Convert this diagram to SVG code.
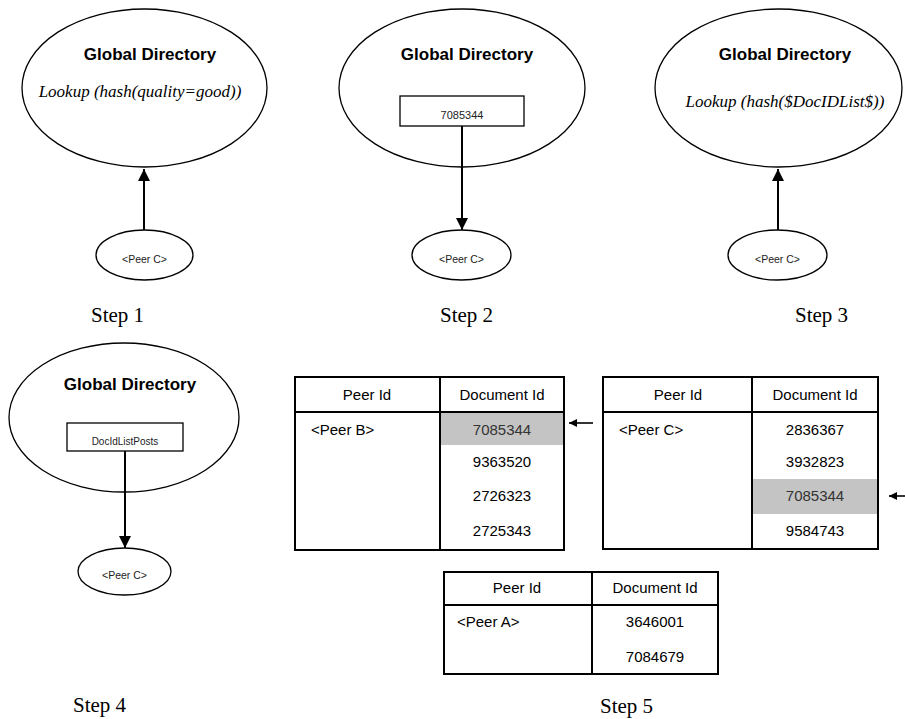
<svg xmlns="http://www.w3.org/2000/svg" width="905" height="719" viewBox="0 0 905 719">
  <style>
    .shape { fill: #fff; stroke: #000; stroke-width: 1.3; }
    .tbl { fill: none; stroke: #000; stroke-width: 2; }
    .hl { fill: #c4c4c4; stroke: none; }
    .wire { fill: none; stroke: #000; stroke-width: 2; }
    .pointer { fill: none; stroke: #000; stroke-width: 1.6; }
    .title { font-family: "Liberation Sans", Arial, sans-serif; font-weight: bold; font-size: 17px; text-anchor: middle; }
    .query { font-family: "Liberation Serif", "Times New Roman", serif; font-style: italic; font-size: 17px; text-anchor: middle; }
    .small { font-family: "Liberation Sans", Arial, sans-serif; font-size: 10.5px; text-anchor: middle; fill: #222; }
    .cell { font-family: "Liberation Sans", Arial, sans-serif; font-size: 15px; text-anchor: middle; }
    .cellL { font-family: "Liberation Sans", Arial, sans-serif; font-size: 15px; }
    .step { font-family: "Liberation Serif", "Times New Roman", serif; font-size: 21px; }
  </style>
  <defs>
    <marker id="head" viewBox="0 0 10 10" refX="10" refY="5" markerWidth="6" markerHeight="6" orient="auto" markerUnits="strokeWidth">
      <path d="M0,0 L10,5 L0,10 z" fill="#000"/>
    </marker>
    <marker id="headSmall" viewBox="0 0 10 10" refX="10" refY="5" markerWidth="5" markerHeight="5" orient="auto" markerUnits="strokeWidth">
      <path d="M0,0 L10,5 L0,10 z" fill="#000"/>
    </marker>
  </defs>
  <rect width="905" height="719" fill="#fff"/>

  <!-- Step 1 -->
  <g id="dir1">
    <ellipse class="shape" cx="144.5" cy="88" rx="122.5" ry="79"/>
    <text class="title" x="150" y="60">Global Directory</text>
    <text class="query" x="140" y="97">Lookup (hash(quality=good))</text>
  </g>
  <g id="peer1">
    <ellipse class="shape" cx="144.5" cy="255" rx="48.5" ry="25"/>
    <text class="small" x="144.5" y="263">&lt;Peer C&gt;</text>
  </g>
  <text class="step" x="91" y="322">Step 1</text>

  <!-- Step 2 -->
  <g id="dir2">
    <ellipse class="shape" cx="462" cy="88" rx="123" ry="79"/>
    <text class="title" x="467" y="60">Global Directory</text>
    <rect class="shape" x="400" y="96" width="124" height="30"/>
    <text class="small" x="462" y="119" style="font-size:11px">7085344</text>
  </g>
  <g id="peer2">
    <ellipse class="shape" cx="461.5" cy="255" rx="49.5" ry="25"/>
    <text class="small" x="461.5" y="263">&lt;Peer C&gt;</text>
  </g>
  <text class="step" x="440" y="322">Step 2</text>

  <!-- Step 3 -->
  <g id="dir3">
    <ellipse class="shape" cx="778.5" cy="88" rx="123.5" ry="79"/>
    <text class="title" x="785" y="60">Global Directory</text>
    <text class="query" x="785" y="107">Lookup (hash($DocIDList$))</text>
  </g>
  <g id="peer3">
    <ellipse class="shape" cx="777.5" cy="255" rx="49.5" ry="25"/>
    <text class="small" x="777.5" y="263">&lt;Peer C&gt;</text>
  </g>
  <text class="step" x="795" y="322">Step 3</text>

  <!-- Step 4 -->
  <g id="dir4">
    <ellipse class="shape" cx="124" cy="417.5" rx="115" ry="74.5"/>
    <text class="title" x="130" y="390">Global Directory</text>
    <rect class="shape" x="67" y="423" width="116" height="28"/>
    <text class="small" x="125" y="445" style="font-size:10px">DocIdListPosts</text>
  </g>
  <g id="peer4">
    <ellipse class="shape" cx="124.5" cy="571.5" rx="46.5" ry="23.5"/>
    <text class="small" x="124.5" y="579">&lt;Peer C&gt;</text>
  </g>
  <text class="step" x="73" y="712">Step 4</text>

  <!-- Step 5: peer tables -->
  <g id="tableB">
    <rect class="hl" x="440" y="412" width="124" height="33"/>
    <rect class="tbl" x="295" y="377" width="269" height="173"/>
    <line class="tbl" x1="295" y1="412" x2="564" y2="412"/>
    <line class="tbl" x1="440" y1="377" x2="440" y2="550"/>
    <text class="cell" x="367" y="400">Peer Id</text>
    <text class="cell" x="502" y="400">Document Id</text>
    <text class="cellL" x="311" y="435">&lt;Peer B&gt;</text>
    <text class="cell" x="502" y="435" fill="#333">7085344</text>
    <text class="cell" x="502" y="467">9363520</text>
    <text class="cell" x="502" y="501">2726323</text>
    <text class="cell" x="502" y="536">2725343</text>
  </g>
  <g id="tableC">
    <rect class="hl" x="752" y="479" width="126" height="35"/>
    <rect class="tbl" x="603" y="377" width="275" height="172"/>
    <line class="tbl" x1="603" y1="412" x2="878" y2="412"/>
    <line class="tbl" x1="752" y1="377" x2="752" y2="549"/>
    <text class="cell" x="678" y="400">Peer Id</text>
    <text class="cell" x="815" y="400">Document Id</text>
    <text class="cellL" x="619" y="435">&lt;Peer C&gt;</text>
    <text class="cell" x="815" y="435">2836367</text>
    <text class="cell" x="815" y="467">3932823</text>
    <text class="cell" x="815" y="501" fill="#333">7085344</text>
    <text class="cell" x="815" y="536">9584743</text>
  </g>
  <g id="tableA">
    <rect class="tbl" x="444" y="572" width="274" height="102"/>
    <line class="tbl" x1="444" y1="605" x2="718" y2="605"/>
    <line class="tbl" x1="592" y1="572" x2="592" y2="674"/>
    <text class="cell" x="517" y="593">Peer Id</text>
    <text class="cell" x="655" y="593">Document Id</text>
    <text class="cellL" x="457" y="627">&lt;Peer A&gt;</text>
    <text class="cell" x="655" y="627">3646001</text>
    <text class="cell" x="655" y="662">7084679</text>
  </g>
  <text class="step" x="600" y="713">Step 5</text>

  <!-- connectors -->
  <g id="connectors">
    <line class="wire" x1="144" y1="230" x2="144" y2="169" marker-end="url(#head)"/>
    <line class="wire" x1="462" y1="126" x2="462" y2="230" marker-end="url(#head)"/>
    <line class="wire" x1="778" y1="230" x2="778" y2="169" marker-end="url(#head)"/>
    <line class="wire" x1="125" y1="451" x2="125" y2="548" marker-end="url(#head)"/>
    <line class="pointer" x1="593" y1="423" x2="569" y2="423" marker-end="url(#headSmall)"/>
    <line class="pointer" x1="906" y1="496" x2="889" y2="496" marker-end="url(#headSmall)"/>
  </g>
</svg>
